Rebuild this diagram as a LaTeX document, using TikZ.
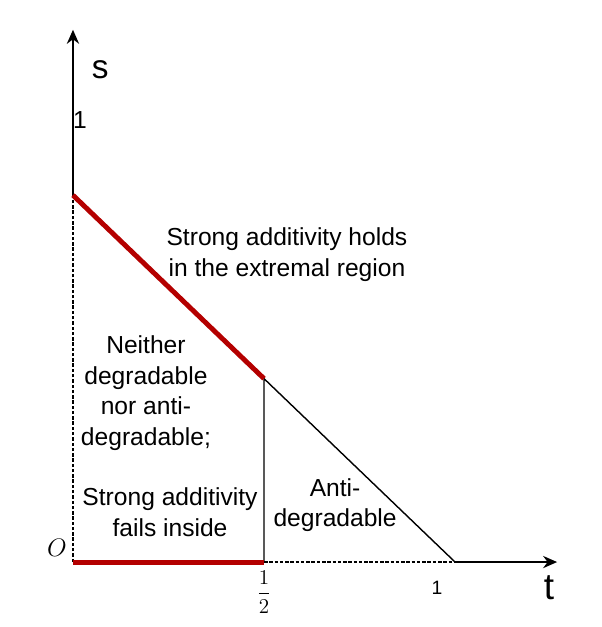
\documentclass[tikz,border=0pt]{standalone}
\usepackage{fontspec}
\setmainfont{Liberation Sans}
\usepackage{tikz}
\usetikzlibrary{arrows.meta}
\definecolor{darkred}{RGB}{180,0,0}

\begin{document}
\begin{tikzpicture}[x=7.64cm,y=7.64cm,
  region/.style={align=center,font=\fontsize{14}{17.5}\selectfont},
  thick red/.style={draw=darkred,line width=2.8pt},
  fine dash/.style={dash pattern=on 2pt off 1pt,line width=0.8pt},
  axis/.style={-{Stealth[length=8pt,width=7pt]},line width=0.8pt}]
\useasboundingbox (-0.191,-0.170) rectangle (1.382,1.471);
\coordinate (o) at (0,0);
\coordinate (stop) at (0,0.96);
\coordinate (half) at (0.5,0);
\coordinate (mid) at (0.5,0.48);
\coordinate (tone) at (1,0);
\coordinate (ytip) at (0,1.393);
\coordinate (xtip) at (1.267,0);
% axes
\draw[fine dash] (o) -- (stop);
\draw[axis] (stop) -- (ytip);
\draw[fine dash] (half) -- (tone);
\draw[axis] (tone) -- (xtip);
% region borders
\draw[line width=0.8pt] (half) -- (mid) -- (tone);
\draw[thick red] (stop) -- (mid);
\draw[thick red] (o) -- (half);
% labels
\node (slab) at (0.071,1.288) {\fontsize{19}{21}\selectfont s};
\node (tlab) at (1.246,-0.068) {\fontsize{21}{23}\selectfont t};
\node (sone) at (0.018,1.157) {\fontsize{14}{16}\selectfont 1};
\node (tonelab) at (0.953,-0.068) {\fontsize{11}{13}\selectfont 1};
\node (thalf) at (0.5,-0.079) {\large $\displaystyle\frac{1}{2}$};
\node (olab) at (-0.042,0.037) {\Large $O$};
\node[region] (holds) at (0.56,0.804) {Strong additivity holds\\in the extremal region};
\node[region] (neither) at (0.191,0.442) {Neither\\degradable\\nor anti-\\degradable;};
\node[region] (fails) at (0.254,0.131) {Strong additivity\\fails inside};
\node[region] (anti) at (0.686,0.149) {Anti-\\degradable};
\end{tikzpicture}
\end{document}
